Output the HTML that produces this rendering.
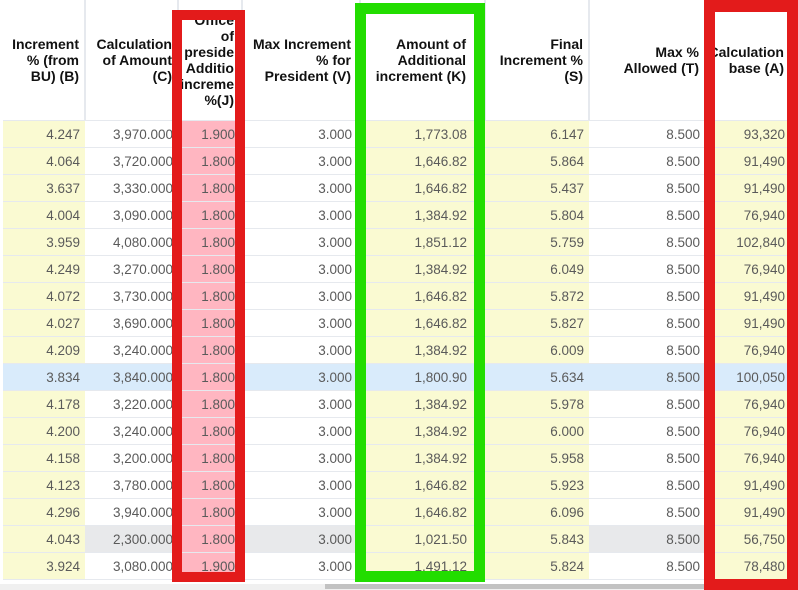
<!DOCTYPE html>
<html><head><style>
body{margin:0;width:798px;height:590px;overflow:hidden;background:#fff;font-family:"Liberation Sans",Arial,sans-serif;position:relative}
table{position:absolute;left:3px;top:0;border-collapse:collapse;table-layout:fixed}
td,th{padding:0 5px 0 0;text-align:right;white-space:nowrap;overflow:hidden;border-bottom:1px solid #e6e9ee}
th{height:120px;padding:0;font-size:14px;font-weight:bold;color:#111;line-height:16px;border-right:2px solid #e6e9ee;vertical-align:middle}
th div{box-sizing:border-box;height:120px;overflow:hidden;display:flex;flex-direction:column;justify-content:center;align-items:flex-end;padding-right:5px}
td{height:26px;font-size:13.5px;color:#5a5a5a}
.y{background:#fafad2}.p{background:#ffb6c1}
tr.b td{background:#d9ebfb}tr.g td{background:#e8e9eb}
.box{position:absolute;box-sizing:border-box}
tr td:nth-child(3){padding-right:7px}
tr td:nth-child(4){padding-right:8px}
tr td:nth-child(5){padding-right:18px}
tr td:nth-child(8){padding-right:10px}
</style></head><body>
<table>
<colgroup><col style="width:82px"><col style="width:93px"><col style="width:64px"><col style="width:118px"><col style="width:125px"><col style="width:104px"><col style="width:116px"><col style="width:90px"></colgroup>
<tr><th><div><span>Increment</span><span>% (from</span><span>BU) (B)</span></div></th><th><div><span>Calculation</span><span>of Amount</span><span>(C)</span></div></th><th><div style="justify-content:flex-start;padding-top:12px;padding-right:7px"><span>Office</span><span>of</span><span>preside</span><span>Additio</span><span>increme</span><span>%(J)</span></div></th><th><div style="padding-right:8px"><span>Max Increment</span><span>% for</span><span>President (V)</span></div></th><th><div style="padding-right:18px"><span>Amount of</span><span>Additional</span><span>increment (K)</span></div></th><th><div><span>Final</span><span>Increment %</span><span>(S)</span></div></th><th><div><span>Max %</span><span>Allowed (T)</span></div></th><th><div style="padding-right:10px"><span>Calculation</span><span>base (A)</span></div></th></tr>
<tr><td class="y">4.247</td><td>3,970.000</td><td class="p">1.900</td><td>3.000</td><td class="y">1,773.08</td><td class="y">6.147</td><td>8.500</td><td class="y">93,320</td></tr>
<tr><td class="y">4.064</td><td>3,720.000</td><td class="p">1.800</td><td>3.000</td><td class="y">1,646.82</td><td class="y">5.864</td><td>8.500</td><td class="y">91,490</td></tr>
<tr><td class="y">3.637</td><td>3,330.000</td><td class="p">1.800</td><td>3.000</td><td class="y">1,646.82</td><td class="y">5.437</td><td>8.500</td><td class="y">91,490</td></tr>
<tr><td class="y">4.004</td><td>3,090.000</td><td class="p">1.800</td><td>3.000</td><td class="y">1,384.92</td><td class="y">5.804</td><td>8.500</td><td class="y">76,940</td></tr>
<tr><td class="y">3.959</td><td>4,080.000</td><td class="p">1.800</td><td>3.000</td><td class="y">1,851.12</td><td class="y">5.759</td><td>8.500</td><td class="y">102,840</td></tr>
<tr><td class="y">4.249</td><td>3,270.000</td><td class="p">1.800</td><td>3.000</td><td class="y">1,384.92</td><td class="y">6.049</td><td>8.500</td><td class="y">76,940</td></tr>
<tr><td class="y">4.072</td><td>3,730.000</td><td class="p">1.800</td><td>3.000</td><td class="y">1,646.82</td><td class="y">5.872</td><td>8.500</td><td class="y">91,490</td></tr>
<tr><td class="y">4.027</td><td>3,690.000</td><td class="p">1.800</td><td>3.000</td><td class="y">1,646.82</td><td class="y">5.827</td><td>8.500</td><td class="y">91,490</td></tr>
<tr><td class="y">4.209</td><td>3,240.000</td><td class="p">1.800</td><td>3.000</td><td class="y">1,384.92</td><td class="y">6.009</td><td>8.500</td><td class="y">76,940</td></tr>
<tr class="b"><td>3.834</td><td>3,840.000</td><td class="p" style="background:#ffb6c1">1.800</td><td>3.000</td><td>1,800.90</td><td>5.634</td><td>8.500</td><td>100,050</td></tr>
<tr><td class="y">4.178</td><td>3,220.000</td><td class="p">1.800</td><td>3.000</td><td class="y">1,384.92</td><td class="y">5.978</td><td>8.500</td><td class="y">76,940</td></tr>
<tr><td class="y">4.200</td><td>3,240.000</td><td class="p">1.800</td><td>3.000</td><td class="y">1,384.92</td><td class="y">6.000</td><td>8.500</td><td class="y">76,940</td></tr>
<tr><td class="y">4.158</td><td>3,200.000</td><td class="p">1.800</td><td>3.000</td><td class="y">1,384.92</td><td class="y">5.958</td><td>8.500</td><td class="y">76,940</td></tr>
<tr><td class="y">4.123</td><td>3,780.000</td><td class="p">1.800</td><td>3.000</td><td class="y">1,646.82</td><td class="y">5.923</td><td>8.500</td><td class="y">91,490</td></tr>
<tr><td class="y">4.296</td><td>3,940.000</td><td class="p">1.800</td><td>3.000</td><td class="y">1,646.82</td><td class="y">6.096</td><td>8.500</td><td class="y">91,490</td></tr>
<tr class="g"><td style="background:#fafad2">4.043</td><td>2,300.000</td><td style="background:#ffb6c1">1.800</td><td>3.000</td><td style="background:#fafad2">1,021.50</td><td style="background:#fafad2">5.843</td><td>8.500</td><td style="background:#fafad2">56,750</td></tr>
<tr><td class="y">3.924</td><td>3,080.000</td><td class="p">1.900</td><td>3.000</td><td class="y">1,491.12</td><td class="y">5.824</td><td>8.500</td><td class="y">78,480</td></tr>
</table>
<div style="position:absolute;left:0;top:584px;width:798px;height:6px;background:#f0f0f0"></div>
<div style="position:absolute;left:325px;top:584px;width:380px;height:5px;background:#c2c2c2"></div>
<div class="box" style="left:172px;top:10px;width:73px;height:572px;border:10px solid #e31b1b"></div>
<div class="box" style="left:355px;top:3px;width:130px;height:579px;border:11px solid #22dd00"></div>
<div class="box" style="left:704px;top:0;width:94px;height:590px;border:11px solid #e31b1b;border-top-width:12px"></div>
</body></html>
